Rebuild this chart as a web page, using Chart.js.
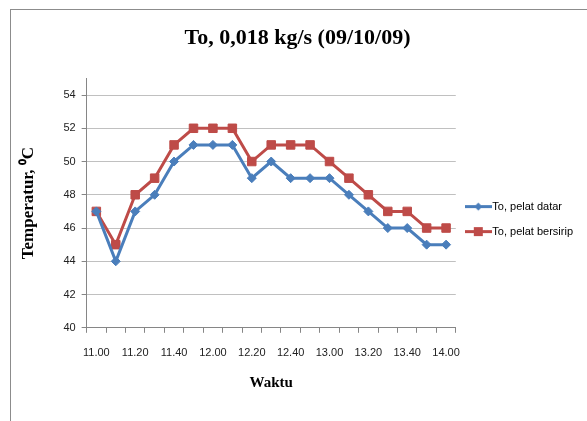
<!DOCTYPE html>
<html>
<head>
<meta charset="utf-8">
<script src="https://cdn.jsdelivr.net/npm/chart.js@4/dist/chart.umd.min.js"></script>
<style>
  html, body { margin: 0; padding: 0; background: #fff; }
  #frame { position: absolute; left: 10px; top: 9px; width: 600px; height: 450px; border: 1px solid #8c8c8c; }
  #wrap { position: absolute; left: 0; top: 0; width: 587px; height: 421px; }
</style>
</head>
<body>
<div id="frame"></div>
<div id="wrap"><canvas id="chart" width="587" height="421"></canvas></div>
<script>
// time of reading (every 10 minutes)
var waktu = ['11.00', '11.10', '11.20', '11.30', '11.40', '11.50', '12.00', '12.10', '12.20', '12.30',
    '12.40', '12.50', '13.00', '13.10', '13.20', '13.30', '13.40', '13.50', '14.00'];
var pelatDatar = [47, 44, 47, 48, 50, 51, 51, 51, 49, 50, 49, 49, 49, 48, 47, 46, 46, 45, 45];
var pelatBersirip = [47, 45, 48, 49, 51, 52, 52, 52, 50, 51, 51, 51, 50, 49, 48, 47, 47, 46, 46];

var blue = '#4a7ebb';
var red = '#be4b48';

// legend icon: short line with the marker in the middle
function makeIcon(color, shape) {
    var c = document.createElement('canvas');
    c.width = 27;
    c.height = 11;
    var g = c.getContext('2d');
    g.strokeStyle = color;
    g.fillStyle = color;
    g.lineWidth = 3;
    g.beginPath();
    g.moveTo(0, 5.5);
    g.lineTo(27, 5.5);
    g.stroke();
    g.beginPath();
    if (shape === 'diamond') {
        g.moveTo(13.5, 1.5);
        g.lineTo(17.5, 5.5);
        g.lineTo(13.5, 9.5);
        g.lineTo(9.5, 5.5);
    } else {
        g.rect(9, 1, 9, 9);
    }
    g.fill();
    return c;
}
var legendIcons = [makeIcon(blue, 'diamond'), makeIcon(red, 'square')];

var ctx = document.getElementById('chart');
var chart = new Chart(ctx, {
    type: 'line',
    data: {
        labels: waktu,
        datasets: [{
            label: 'To, pelat datar',
            data: pelatDatar,
            borderColor: blue,
            backgroundColor: blue,
            borderWidth: 3,
            pointStyle: 'rectRot',
            pointRadius: 4.5,
            pointBorderWidth: 1,
            pointHoverRadius: 4.5,
            tension: 0
        }, {
            label: 'To, pelat bersirip',
            data: pelatBersirip,
            borderColor: red,
            backgroundColor: red,
            borderWidth: 3,
            pointStyle: 'rect',
            pointRadius: 6,
            pointBorderWidth: 1,
            pointHoverRadius: 6,
            tension: 0
        }]
    },
    options: {
        responsive: false,
        animation: false,
        layout: { padding: { left: 12, right: 4, top: 0, bottom: 0 } },
        plugins: {
            title: {
                display: true,
                text: 'To, 0,018 kg/s (09/10/09)',
                color: '#000',
                font: { family: '"Liberation Serif", serif', size: 22, weight: 'bold' },
                padding: { top: 25, bottom: 27 }
            },
            legend: {
                position: 'right',
                fullSize: false,
                title: { display: true, text: '', font: { size: 10 }, padding: 10 },
                labels: {
                    usePointStyle: true,
                    pointStyleWidth: 17,
                    padding: 14,
                    color: '#000',
                    font: { family: '"Liberation Sans", sans-serif', size: 11 },
                    generateLabels: function (chart) {
                        var items = Chart.defaults.plugins.legend.labels.generateLabels(chart);
                        items.forEach(function (item, i) {
                            item.pointStyle = legendIcons[i];
                        });
                        return items;
                    }
                }
            },
            tooltip: { enabled: false }
        },
        scales: {
            x: {
                offset: true,
                grid: { drawOnChartArea: false, offset: true, tickLength: 5, color: '#868686' },
                border: { color: '#868686' },
                ticks: {
                    autoSkip: false,
                    maxRotation: 0,
                    padding: 14,
                    color: '#222',
                    font: { family: '"Liberation Sans", sans-serif', size: 11 },
                    callback: function (value, index) {
                        return index % 2 === 0 ? this.getLabelForValue(value) : '';
                    }
                },
                title: {
                    display: true,
                    text: 'Waktu',
                    color: '#000',
                    font: { family: '"Liberation Serif", serif', size: 15, weight: 'bold' },
                    padding: { top: 0, bottom: 29 }
                }
            },
            y: {
                min: 40,
                max: 55,
                grid: { color: '#c0c0c0', tickColor: '#868686', tickLength: 5 },
                border: { color: '#868686' },
                ticks: {
                    stepSize: 2,
                    includeBounds: false,
                    padding: 6,
                    color: '#222',
                    font: { family: '"Liberation Sans", sans-serif', size: 11 }
                },
                title: {
                    display: true,
                    text: 'Temperatur, \u2070C',
                    color: '#000',
                    font: { family: '"Liberation Serif", serif', size: 17, weight: 'bold' },
                    padding: { top: 6, bottom: 19 }
                }
            }
        }
    }
});
</script>
</body>
</html>
